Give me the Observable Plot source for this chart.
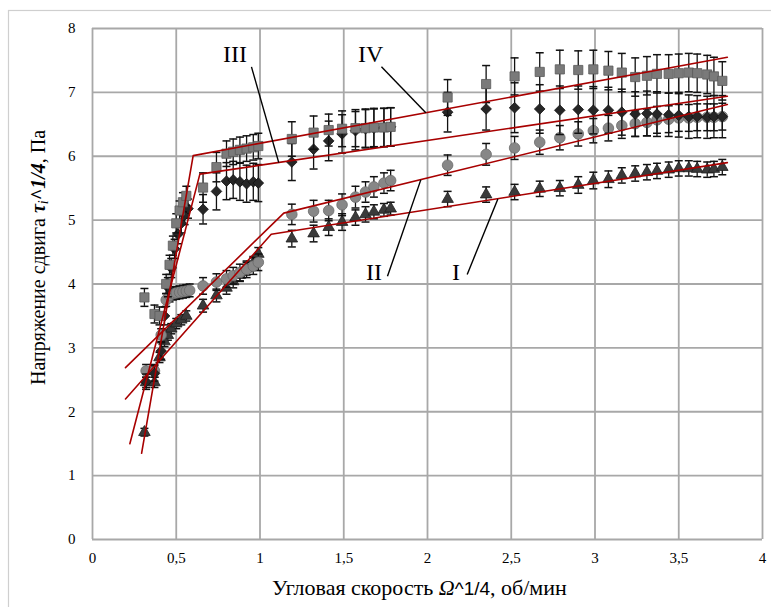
<!DOCTYPE html>
<html>
<head>
<meta charset="utf-8">
<script src="https://cdn.jsdelivr.net/npm/d3@7"></script>
<script src="https://cdn.jsdelivr.net/npm/@observablehq/plot@0.6"></script>
<style>
  html, body { margin: 0; padding: 0; background: #fff; }
  #chart { width: 771px; height: 607px; overflow: hidden; }
  #chart svg text { font-family: 'Liberation Serif', 'Times New Roman', serif; }
</style>
</head>
<body>
<div id="chart"></div>
<script>
// ---------- data ----------
// x values (angular speed ^1/4) shared by all four series above x = 0.6
const xMain = [0.66, 0.74, 0.80, 0.84, 0.88, 0.92, 0.96, 0.99,
  1.19, 1.32, 1.41, 1.49, 1.57, 1.63, 1.68, 1.74, 1.78,
  2.12, 2.35, 2.52, 2.67, 2.79, 2.90, 2.99, 3.08, 3.16, 3.24, 3.31, 3.37, 3.44, 3.50, 3.56, 3.61, 3.67, 3.71, 3.76];

// Series I (triangles)
const xLowI = [0.31, 0.32, 0.37, 0.40, 0.43, 0.45, 0.47, 0.50, 0.53, 0.56];
const yLowI = [1.68, 2.46, 2.46, 2.85, 3.10, 3.20, 3.30, 3.38, 3.44, 3.50];
const eLowI = [0.06, 0.08, 0.08, 0.08, 0.08, 0.08, 0.08, 0.08, 0.08, 0.08];
const yMainI = [3.66, 3.82, 3.94, 4.04, 4.14, 4.24, 4.33, 4.47,
  4.71, 4.79, 4.89, 4.97, 5.04, 5.09, 5.13, 5.16, 5.18,
  5.33, 5.40, 5.44, 5.49, 5.50, 5.55, 5.62, 5.64, 5.70, 5.73, 5.75, 5.77, 5.79, 5.81, 5.81, 5.80, 5.79, 5.80, 5.83];
const eMainI = [0.10, 0.10, 0.10, 0.10, 0.10, 0.10, 0.10, 0.10,
  0.13, 0.13, 0.13, 0.13, 0.12, 0.12, 0.11, 0.10, 0.10,
  0.12, 0.12, 0.12, 0.12, 0.12, 0.13, 0.13, 0.13, 0.12, 0.12, 0.12, 0.12, 0.12, 0.12, 0.12, 0.12, 0.12, 0.12, 0.12];

// Series II (circles)
const xLowII = [0.32, 0.37, 0.41, 0.44, 0.46, 0.48, 0.50, 0.52, 0.54, 0.56, 0.58];
const yLowII = [2.64, 2.64, 3.20, 3.75, 3.82, 3.85, 3.86, 3.87, 3.88, 3.89, 3.90];
const eLowII = [0.10, 0.10, 0.10, 0.10, 0.10, 0.10, 0.10, 0.10, 0.10, 0.10, 0.10];
const yMainII = [3.97, 4.03, 4.08, 4.13, 4.18, 4.23, 4.28, 4.34,
  5.09, 5.14, 5.15, 5.24, 5.36, 5.44, 5.52, 5.58, 5.62,
  5.86, 6.03, 6.13, 6.22, 6.29, 6.35, 6.40, 6.44, 6.48, 6.51, 6.53, 6.57, 6.58, 6.60, 6.60, 6.61, 6.61, 6.61, 6.62];
const eMainII = [0.13, 0.13, 0.13, 0.13, 0.13, 0.13, 0.13, 0.13,
  0.16, 0.17, 0.16, 0.17, 0.17, 0.16, 0.16, 0.16, 0.16,
  0.16, 0.17, 0.18, 0.19, 0.19, 0.19, 0.19, 0.20, 0.20, 0.20, 0.21, 0.21, 0.21, 0.21, 0.21, 0.21, 0.21, 0.21, 0.21];

// Series III (diamonds)
const xLowIII = [0.32, 0.37, 0.41, 0.43, 0.45, 0.47, 0.49, 0.51, 0.53, 0.55, 0.57];
const yLowIII = [2.47, 2.60, 2.95, 3.50, 3.95, 4.25, 4.55, 4.78, 4.95, 5.08, 5.18];
const eLowIII = [0.12, 0.12, 0.13, 0.14, 0.15, 0.15, 0.15, 0.15, 0.15, 0.15, 0.15];
const yMainIII = [5.17, 5.45, 5.61, 5.63, 5.60, 5.57, 5.60, 5.58,
  5.91, 6.11, 6.24, 6.35, 6.40, 6.43, 6.44, 6.45, 6.46,
  6.69, 6.74, 6.76, 6.74, 6.72, 6.73, 6.72, 6.72, 6.69, 6.66, 6.67, 6.66, 6.65, 6.64, 6.62, 6.62, 6.61, 6.62, 6.62];
const eMainIII = [0.23, 0.29, 0.29, 0.29, 0.29, 0.29, 0.29, 0.29,
  0.29, 0.31, 0.31, 0.30, 0.30, 0.30, 0.30, 0.30, 0.30,
  0.31, 0.33, 0.39, 0.38, 0.38, 0.37, 0.37, 0.36, 0.36, 0.35, 0.35, 0.35, 0.34, 0.34, 0.34, 0.33, 0.33, 0.33, 0.33];

// Series IV (squares)
const xLowIV = [0.31, 0.37, 0.40, 0.44, 0.46, 0.48, 0.50, 0.52, 0.54, 0.56];
const yLowIV = [3.79, 3.53, 3.50, 4.00, 4.30, 4.60, 4.95, 5.15, 5.28, 5.38];
const eLowIV = [0.14, 0.14, 0.14, 0.15, 0.15, 0.15, 0.15, 0.15, 0.15, 0.15];
const yMainIV = [5.51, 5.83, 6.04, 6.07, 6.10, 6.12, 6.14, 6.16,
  6.27, 6.37, 6.41, 6.43, 6.44, 6.44, 6.45, 6.45, 6.46,
  6.92, 7.13, 7.25, 7.32, 7.36, 7.35, 7.36, 7.34, 7.31, 7.24, 7.26, 7.29, 7.29, 7.30, 7.31, 7.30, 7.28, 7.25, 7.18];
const eMainIV = [0.23, 0.23, 0.20, 0.20, 0.20, 0.20, 0.20, 0.20,
  0.27, 0.26, 0.25, 0.28, 0.29, 0.30, 0.30, 0.30, 0.30,
  0.28, 0.29, 0.29, 0.30, 0.30, 0.30, 0.30, 0.30, 0.30, 0.30, 0.30, 0.30, 0.30, 0.30, 0.30, 0.30, 0.30, 0.30, 0.30];

// piecewise-linear fits (dark red)
const fitXI = [0.197, 1.067, 3.79],  fitYI = [2.20, 4.78, 5.90];
const fitXII = [0.197, 1.142, 3.79], fitYII = [2.69, 5.11, 6.81];
const fitXIII = [0.223, 0.641, 3.79], fitYIII = [1.50, 5.72, 6.94];
const fitXIV = [0.293, 0.601, 3.79], fitYIV = [1.35, 6.01, 7.55];

// curve labels with leader lines
const labelNames = ["I", "II", "III", "IV"];
const labelX = [2.17, 1.68, 0.85, 1.66];
const labelY = [4.19, 4.19, 7.59, 7.59];
const leadX1 = [2.237, 1.761, 0.949, 1.725];
const leadY1 = [4.15, 4.12, 7.40, 7.40];
const leadX2 = [2.42, 1.96, 1.112, 1.99];
const leadY2 = [5.33, 5.63, 5.90, 6.68];

// ticks
const xTicks = [0, 0.5, 1, 1.5, 2, 2.5, 3, 3.5, 4];
const yTicks = [0, 1, 2, 3, 4, 5, 6, 7, 8];

// ---------- build ----------
const series = (xl, yl, el, ym, em, name) =>
  xl.map((x, i) => ({x, y: yl[i], e: el[i], s: name}))
    .concat(xMain.map((x, i) => ({x, y: ym[i], e: em[i], s: name})));
const dI = series(xLowI, yLowI, eLowI, yMainI, eMainI, "I");
const dII = series(xLowII, yLowII, eLowII, yMainII, eMainII, "II");
const dIII = series(xLowIII, yLowIII, eLowIII, yMainIII, eMainIII, "III");
const dIV = series(xLowIV, yLowIV, eLowIV, yMainIV, eMainIV, "IV");

const fit = (xs, ys, name) => xs.map((x, i) => ({x, y: ys[i], s: name}));
const fits = [].concat(fit(fitXI, fitYI, "I"), fit(fitXII, fitYII, "II"),
  fit(fitXIII, fitYIII, "III"), fit(fitXIV, fitYIV, "IV"));

const labels = labelNames.map((t, i) => ({t, x: labelX[i], y: labelY[i],
  x1: leadX1[i], y1: leadY1[i], x2: leadX2[i], y2: leadY2[i]}));

const cap = {draw(ctx) { ctx.moveTo(-4, 0); ctx.lineTo(4, 0); }};

function errMarks(data) {
  return [
    Plot.ruleX(data, {x: "x", y1: d => d.y - d.e, y2: d => d.y + d.e, stroke: "#111", strokeWidth: 1.3}),
    Plot.dot(data, {x: "x", y: d => d.y + d.e, symbol: cap, r: 4, fill: "none", stroke: "#111", strokeWidth: 1.5}),
    Plot.dot(data, {x: "x", y: d => d.y - d.e, symbol: cap, r: 4, fill: "none", stroke: "#111", strokeWidth: 1.5})
  ];
}

const gridColor = "#a8a8a8";
const chart = Plot.plot({
  width: 771,
  height: 607,
  marginLeft: 92,
  marginRight: 9,
  marginTop: 28,
  marginBottom: 68,
  style: {fontFamily: "'Liberation Serif', 'Times New Roman', serif", fontSize: "15px", color: "#000", background: "#fff"},
  x: {domain: [0, 4], ticks: xTicks, tickFormat: d => String(d).replace(".", ","), tickSize: 0, tickPadding: 13, label: null},
  y: {domain: [0, 8], ticks: yTicks, tickFormat: d => String(d), tickSize: 0, tickPadding: 17, label: null},
  marks: [
    Plot.ruleX(xTicks, {stroke: gridColor, strokeWidth: 1.8}),
    Plot.ruleY(yTicks, {stroke: gridColor, strokeWidth: 1.8}),
    ...errMarks(dI),
    Plot.dot(dI, {x: "x", y: "y", symbol: "triangle", r: 4.3, fill: "#3a3a3a", stroke: "#1e1e1e", strokeWidth: 0.8}),
    ...errMarks(dII),
    Plot.dot(dII, {x: "x", y: "y", symbol: "circle", r: 5.3, fill: "#878787", stroke: "#6a6a6a", strokeWidth: 0.8}),
    ...errMarks(dIII),
    Plot.dot(dIII, {x: "x", y: "y", symbol: "diamond2", r: 4.8, fill: "#262626", stroke: "#111", strokeWidth: 0.8}),
    ...errMarks(dIV),
    Plot.dot(dIV, {x: "x", y: "y", symbol: "square", r: 5.2, fill: "#7a7a7a", stroke: "#5a5a5a", strokeWidth: 0.8}),
    Plot.line(fits, {x: "x", y: "y", z: "s", stroke: "#a80000", strokeWidth: 1.6}),
    Plot.link(labels, {x1: "x1", y1: "y1", x2: "x2", y2: "y2", stroke: "#000", strokeWidth: 1.4}),
    Plot.text(labels, {x: "x", y: "y", text: "t", fontSize: 24, fill: "#000"})
  ]
});

document.getElementById("chart").appendChild(chart);

// axis titles and outer frame
const svg = d3.select(chart);
svg.append("rect").attr("x", 8.5).attr("y", 10.5).attr("width", 900).attr("height", 900)
  .attr("fill", "none").attr("stroke", "#cfcfcf").attr("stroke-width", 1.2);

const xt = svg.append("text")
  .attr("x", 272).attr("y", 595)
  .attr("text-anchor", "start")
  .style("font-size", "22px").attr("fill", "#000");
xt.append("tspan").text("Угловая скорость ");
xt.append("tspan").attr("font-style", "italic").text("Ω");
xt.append("tspan").style("font-family", "'Liberation Sans', sans-serif").style("font-size", "19px").text("^1/4");
xt.append("tspan").text(", об/мин");

const yt = svg.append("text")
  .attr("transform", "translate(45,385) rotate(-90)")
  .attr("text-anchor", "start")
  .style("font-size", "20px").attr("fill", "#000");
yt.append("tspan").text("Напряжение сдвига ");
yt.append("tspan").attr("font-style", "italic").attr("font-weight", "bold").text("τ");
yt.append("tspan").attr("font-style", "italic").style("font-size", "14px").attr("dy", "3").text("i");
yt.append("tspan").attr("font-style", "italic").attr("font-weight", "bold").attr("dy", "-3").text("^1/4");
yt.append("tspan").text(", Па");
</script>
</body>
</html>
